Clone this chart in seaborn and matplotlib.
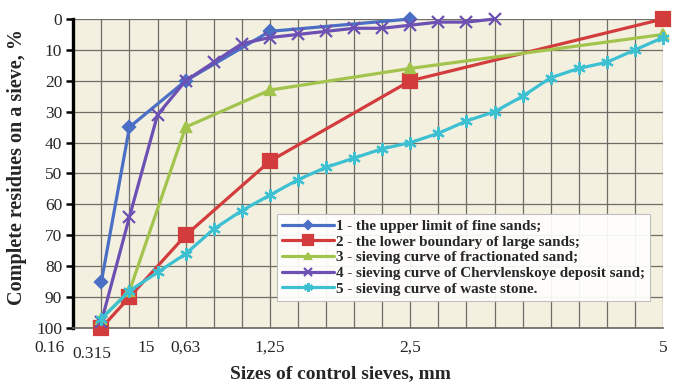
import matplotlib
matplotlib.use("Agg")
import matplotlib.pyplot as plt
import matplotlib.transforms as mtransforms
import seaborn as sns
import pandas as pd

# ---- data (category index positions on the sieve axis, residues in %) ----
labels = [
    "1 - the upper limit of fine sands;",
    "2 - the lower boundary of large sands;",
    "3 - sieving curve of fractionated sand;",
    "4 - sieving curve of Chervlenskoye deposit sand;",
    "5 - sieving curve of waste stone.",
]
x1 = [1, 2, 4, 7, 12]
y1 = [85, 35, 20, 4, 0]
x2 = [1, 2, 4, 7, 12, 21]
y2 = [100, 90, 70, 46, 20, 0]
x3 = [1, 2, 4, 7, 12, 21]
y3 = [97, 88, 35, 23, 16, 5]
x4 = list(range(1, 16))
y4 = [98, 64, 31, 20, 14, 8, 6, 5, 4, 3, 3, 2, 1, 1, 0]
x5 = list(range(1, 22))
y5 = [97, 88, 82, 76, 68, 62, 57, 52, 48, 45, 42, 40, 37, 33, 30, 25, 19, 16, 14, 10, 6]

tick_texts = ["0.16", "0.315", "15", "0,63", "1,25", "2,5", "5"]
tick_pos = [-0.83, 0.67, 2.6, 4, 7, 12, 21]
yticks = list(range(0, 101, 10))

colors = ["#4a6fc4", "#d23c3c", "#a3c44c", "#6c50b4", "#3cc0d2"]
markers = ["D", "s", "^", "x", (6, 2, 0)]
msizes = [6.5, 10, 7, 8.5, 9]

sns.set_theme(style="white")
plt.rcParams["font.family"] = ["Liberation Serif", "DejaVu Serif"]

fig = plt.figure(figsize=(6.8, 3.85), dpi=100)
fig.patch.set_facecolor("white")
ax = fig.add_axes([73.3 / 680, 1 - 328 / 385, (663 - 73.3) / 680, (328 - 19) / 385])
ax.set_facecolor("#f3f0e0")

series = [(x1, y1), (x2, y2), (x3, y3), (x4, y4), (x5, y5)]
for k, (xs, ys) in enumerate(series):
    df = pd.DataFrame({"x": xs, "y": ys})
    sns.lineplot(data=df, x="x", y="y", ax=ax, color=colors[k], marker=markers[k],
                 markersize=msizes[k], markeredgecolor=colors[k], markerfacecolor=colors[k],
                 markeredgewidth=1.6, linewidth=2.3, label=labels[k], clip_on=False, zorder=3 + k)

ax.set_xlim(0, 21)
ax.set_ylim(100, 0)
ax.set_xticks(range(0, 22))
ax.set_yticks(yticks)
ax.set_yticklabels([str(v) for v in yticks], fontsize=12.5)
ax.tick_params(axis="x", bottom=False, labelbottom=False)
ax.tick_params(axis="y", left=True, length=5, width=1.8, color="black", pad=3)
ax.grid(True, color="#6e6e66", linewidth=0.9)
ax.set_axisbelow(True)

for s in ["top", "right"]:
    ax.spines[s].set_visible(False)
ax.spines["left"].set_color("black")
ax.spines["left"].set_linewidth(2.4)
ax.spines["bottom"].set_color("#666660")
ax.spines["bottom"].set_linewidth(1.2)

trans = mtransforms.blended_transform_factory(ax.transData, ax.transAxes)
for t, p in zip(tick_texts, tick_pos):
    dy = -0.085 if t == "0.315" else -0.065
    ax.text(p, dy, t, transform=trans, ha="center", va="center", fontsize=12.5, clip_on=False)

ax.set_xlabel("Sizes of control sieves, mm", fontsize=14, fontweight="bold")
ax.xaxis.set_label_coords((340 - 73.3) / 589.7, -0.12)
ax.set_ylabel("Complete residues on a sieve, %", fontsize=14.5, fontweight="bold")
ax.yaxis.set_label_coords(-0.078, 0.52)

handles, labs = ax.get_legend_handles_labels()
leg = ax.legend(handles, labs, loc="upper left", bbox_to_anchor=(277 / 680, 1 - 214 / 385),
                bbox_transform=fig.transFigure, frameon=True, fancybox=False,
                handlelength=3.4, handletextpad=0.15, borderpad=0.35, labelspacing=0.14,
                markerscale=0.7, borderaxespad=0,
                prop={"family": ["Liberation Serif"], "weight": "bold", "size": 10.9})
leg.get_frame().set_facecolor("white")
leg.get_frame().set_alpha(0.92)
leg.get_frame().set_edgecolor("#bbbbbb")
leg.get_frame().set_linewidth(0.8)

fig.savefig("out.png", dpi=100)
